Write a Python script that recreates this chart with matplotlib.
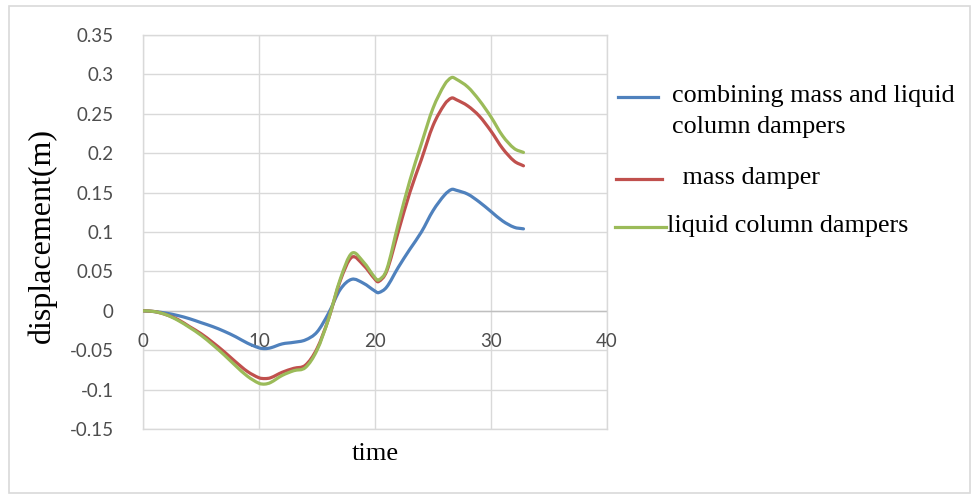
import matplotlib
matplotlib.use("Agg")
import matplotlib.pyplot as plt
from matplotlib.lines import Line2D
from matplotlib.patches import Rectangle, PathPatch
from matplotlib.path import Path

# ---- data ----
time = [0, 1, 2, 3, 4, 5, 6, 7, 8, 9, 10, 10.5, 11, 12, 13, 14, 15, 16, 17, 18,
        19, 20, 20.3, 21, 22, 23, 24, 25, 26, 26.6, 27, 28, 29, 30, 31, 32, 32.8]

combined = [0, -0.001, -0.003, -0.006, -0.010, -0.015, -0.020, -0.026, -0.033, -0.041,
            -0.047, -0.048, -0.047, -0.042, -0.040, -0.037, -0.027, -0.003, 0.027, 0.040,
            0.035, 0.025, 0.023, 0.030, 0.055, 0.078, 0.100, 0.127, 0.147, 0.154, 0.153,
            0.148, 0.138, 0.126, 0.114, 0.106, 0.104]

mass = [0, -0.001, -0.005, -0.011, -0.020, -0.029, -0.040, -0.052, -0.065, -0.077,
        -0.085, -0.086, -0.085, -0.078, -0.073, -0.069, -0.048, -0.010, 0.038, 0.068,
        0.058, 0.040, 0.037, 0.050, 0.100, 0.150, 0.192, 0.235, 0.262, 0.270, 0.268,
        0.260, 0.247, 0.228, 0.206, 0.190, 0.184]

liquid = [0, -0.001, -0.005, -0.012, -0.021, -0.031, -0.043, -0.056, -0.070, -0.083,
          -0.092, -0.093, -0.091, -0.082, -0.076, -0.072, -0.050, -0.010, 0.040, 0.073,
          0.062, 0.042, 0.039, 0.052, 0.110, 0.165, 0.212, 0.257, 0.287, 0.296, 0.294,
          0.284, 0.267, 0.246, 0.222, 0.206, 0.201]

series_labels = ["combining mass and liquid\ncolumn dampers", " mass damper", "liquid column dampers"]
series_colors = ["#4F81BD", "#C0504D", "#9BBB59"]

x_ticks = [0, 10, 20, 30, 40]
y_ticks = [-0.15, -0.1, -0.05, 0, 0.05, 0.1, 0.15, 0.2, 0.25, 0.3, 0.35]
y_tick_labels = ["-0.15", "-0.1", "-0.05", "0", "0.05", "0.1", "0.15", "0.2", "0.25", "0.3", "0.35"]


def smooth_path(xs, ys):
    """Excel-style smoothed line: cubic Bezier through every data point."""
    n = len(xs)
    verts = [(xs[0], ys[0])]
    codes = [Path.MOVETO]
    for i in range(n - 1):
        x0, y0 = (xs[i - 1], ys[i - 1]) if i > 0 else (xs[i], ys[i])
        x1, y1 = xs[i], ys[i]
        x2, y2 = xs[i + 1], ys[i + 1]
        x3, y3 = (xs[i + 2], ys[i + 2]) if i + 2 < n else (x2, y2)
        h = x2 - x1
        d1 = (x2 - x0) if (x2 - x0) else 1
        d2 = (x3 - x1) if (x3 - x1) else 1
        s1 = (y2 - y0) / d1
        s2 = (y3 - y1) / d2
        c1 = (x1 + h / 3, y1 + s1 * h / 3)
        c2 = (x2 - h / 3, y2 - s2 * h / 3)
        verts += [c1, c2, (x2, y2)]
        codes += [Path.CURVE4] * 3
    return Path(verts, codes)


# ---- figure ----
W, H = 972, 495
fig = plt.figure(figsize=(W / 100, H / 100), dpi=100)
fig.patch.set_facecolor("white")

fig.patches.append(Rectangle((9 / W, 1 - 493 / H), (970 - 9) / W, (493 - 6) / H,
                             transform=fig.transFigure, fill=False,
                             edgecolor="#D9D9D9", linewidth=1.2))

ax = fig.add_axes([143 / W, 1 - 429 / H, (607 - 143) / W, (429 - 35) / H])
ax.set_xlim(0, 40)
ax.set_ylim(-0.15, 0.35)

grid_c = "#D9D9D9"
for s in ax.spines.values():
    s.set_color(grid_c)
    s.set_linewidth(1)
ax.set_xticks(x_ticks)
ax.set_yticks(y_ticks)
ax.set_yticklabels(y_tick_labels)
ax.grid(True, color=grid_c, linewidth=1)
ax.set_axisbelow(True)
ax.tick_params(axis="both", length=0)
ax.tick_params(axis="y", pad=21, labelsize=13.5, labelcolor="#4D4D4D")
ax.set_xticklabels([])
for lab in ax.get_yticklabels():
    lab.set_family("Lato")

ax.axhline(0, color="#BFBFBF", linewidth=1, zorder=1)

for xv in x_ticks:
    ax.text(xv, -0.039, str(xv), ha="center", va="center", fontsize=13.5,
            color="#4D4D4D", family="Lato", clip_on=False)

for ys, c in zip([combined, mass, liquid], series_colors):
    ax.add_patch(PathPatch(smooth_path(time, ys), fill=False, edgecolor=c,
                           linewidth=2.3, capstyle="round", joinstyle="round", zorder=3))

ax.set_xlabel("time", family="Liberation Serif", fontsize=19)
ax.xaxis.set_label_coords(0.5, -0.035)
ax.set_ylabel("displacement(m)", family="Liberation Serif", fontsize=23)
ax.yaxis.set_label_coords(-0.185, 0.49)

legend_rows = [(97, 618, 658, 672), (179, 616, 662, 676), (227, 615, 666, 667)]
for (yc, x0, x1, xt), lab, c in zip(legend_rows, series_labels, series_colors):
    fig.add_artist(Line2D([x0 / W, x1 / W], [1 - yc / H, 1 - yc / H],
                          transform=fig.transFigure, color=c, linewidth=2.3))
    fig.text(xt / W, 1 - (yc - 12) / H, lab, ha="left", va="top",
             family="Liberation Serif", fontsize=18.8, linespacing=1.5)

fig.savefig("out.png", dpi=100, facecolor="white")
